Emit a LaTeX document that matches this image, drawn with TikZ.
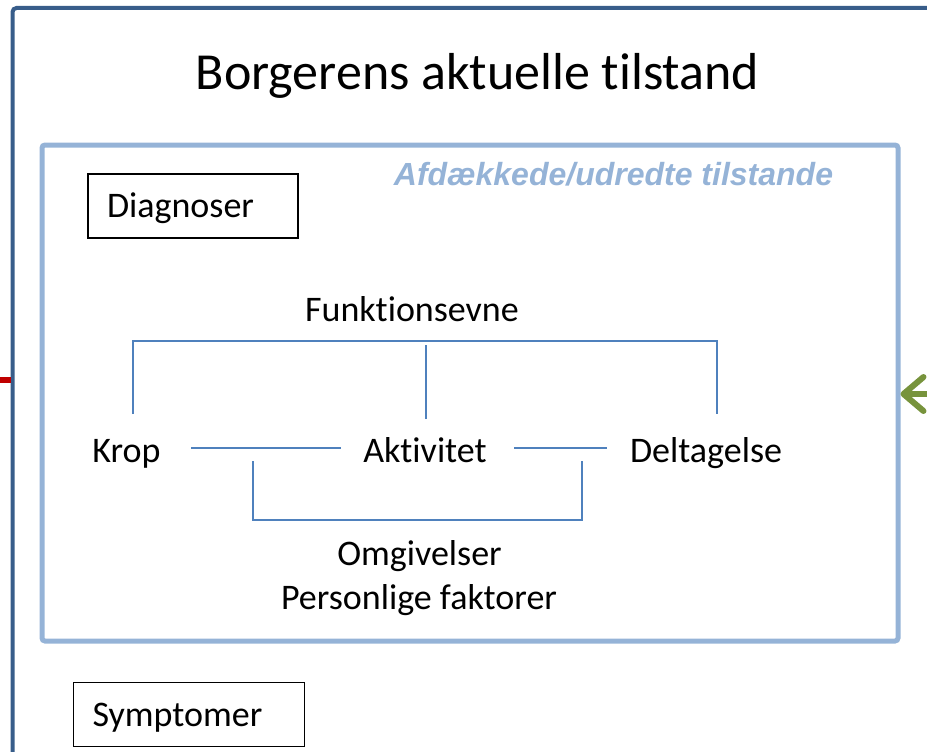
\documentclass[tikz,border=0pt]{standalone}
\usepackage{fontspec}
\setmainfont{Carlito}[Ligatures=NoCommon]
\newfontfamily\headfont{Liberation Sans}
\usetikzlibrary{arrows.meta}
\definecolor{darkframe}{RGB}{56,93,138}
\definecolor{lightframe}{RGB}{149,179,215}
\definecolor{linkblue}{RGB}{79,129,189}
\definecolor{redmark}{RGB}{192,0,0}
\definecolor{greenmark}{RGB}{119,147,60}
\begin{document}
\begin{tikzpicture}[x=1pt, y=-1pt,
  every node/.style={inner sep=0pt, font=\fontsize{36}{44}\selectfont},
  txt/.style={anchor=base},
  box/.style={draw, line width=1.5pt, inner xsep=19pt, minimum height=64pt,
    text height=23pt, text depth=0pt, align=left},
  con/.style={draw=linkblue, line width=1.8pt}]
  \useasboundingbox (0,0) rectangle (927,752);
  \clip (0,0) rectangle (927,752);
  % frames
  \draw [darkframe, line width=4pt, rounded corners=4pt] (12.5,820) -- (12.5,8) -- (1000,8);
  \node [draw=lightframe, line width=5pt, rounded corners=3pt, minimum width=856pt,
    minimum height=496pt] (udredt) at (470,393) {};
  \node [txt, font=\fontsize{52}{60}\selectfont] (titel) at (477.5,89) {Borgerens aktuelle tilstand};
  \node [txt, font=\headfont\bfseries\itshape\fontsize{32}{38}\selectfont, text=lightframe]
    (afd) at (613.5,185) {Afdækkede/udredte tilstande};
  \node [box, text width=172pt] (diag) at (193,206) {Diagnoser};
  \node [box, text width=193pt] (sympt) at (189,714.5) {Symptomer};
  % funktionsevne
  \node [txt] (funk) at (412,321) {Funktionsevne};
  \node [txt] (krop) at (126.5,462) {Krop};
  \node [txt] (akt) at (425,462) {Aktivitet};
  \node [txt] (delt) at (706,462) {Deltagelse};
  \node [txt] (omg) at (419.5,565) {Omgivelser};
  \node [txt] (pers) at (419,609) {Personlige faktorer};
  \coordinate (fL) at (133,414);
  \coordinate (fM) at (426,419);
  \coordinate (fR) at (717,414);
  \coordinate (kA) at (191,448);
  \coordinate (aK) at (341,448);
  \coordinate (aD) at (514,448);
  \coordinate (dA) at (607,448);
  \coordinate (oL) at (253,461);
  \coordinate (oR) at (582,461);
  \draw [con] (fL) -- ++(0,-73) -| (fR);
  \draw [con] (fM) -- ++(0,-74);
  \draw [con] (kA) -- (aK);
  \draw [con] (aD) -- (dA);
  \draw [con] (oL) -- ++(0,59) -| (oR);
  % markers on the edges
  \coordinate (redL) at (0,380);
  \coordinate (redR) at (11,380);
  \draw [redmark, line width=6pt] (redL) -- (redR);
  \coordinate (grR) at (940,394);
  \draw [greenmark, line width=6pt, line cap=round,
    -{Straight Barb[length=20pt,width=34pt,round]}] (grR) -- (udredt.east |- grR);
\end{tikzpicture}
\end{document}
